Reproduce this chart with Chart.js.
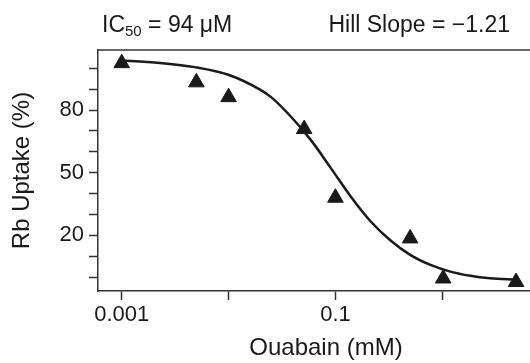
<!DOCTYPE html>
<html>
<head>
<meta charset="utf-8">
<script src="https://cdn.jsdelivr.net/npm/chart.js@4.4.1/dist/chart.umd.min.js"></script>
<style>
  html, body { margin: 0; padding: 0; background: #fff; }
  /* the figure is a crop of a slightly wider plot: the right edge of the frame falls outside */
  #crop { width: 530px; height: 363px; overflow: hidden; position: relative; }
  #wrap { width: 554px; height: 363px; position: relative; }
</style>
</head>
<body>
<div id="crop"><div id="wrap"><canvas id="doseChart"></canvas></div></div>
<script>
// measured points (ouabain mM vs Rb uptake %)
var doseX   = [0.001, 0.005, 0.01, 0.051, 0.1, 0.5, 1.02, 4.9];
var uptakeY = [102.5, 93.3, 86.2, 70.9, 38, 18.5, -0.7, -2.4];

// fitted curve
var fitX = [0.001, 0.0024, 0.0048, 0.0101, 0.0197, 0.025, 0.0384, 0.059, 0.0906,
            0.139, 0.214, 0.328, 0.505, 0.775, 1.19, 1.83, 2.81, 4.9];
var fitY = [103.8, 102.5, 100.6, 96.8, 89.8, 86.2, 76.8, 65.6, 52.2,
            38.6, 26.6, 17.5, 10.5, 5.8, 2.6, 0.6, -0.6, -1.3];

var xTickValues = [0.001, 0.01, 0.1, 1];
var xTickLabels = ['0.001', '', '0.1', ''];
var yTickValues = [0, 10, 20, 30, 40, 50, 60, 70, 80, 90, 100];
var yTickLabels = ['', '', '20', '', '', '50', '', '', '80', '', ''];

var FONT = 'Liberation Sans, Arial, Helvetica, sans-serif';
var INK = '#1a1a1a';
var AXIS = '#333333';

document.addEventListener('DOMContentLoaded', function () {
    var ctx = document.getElementById('doseChart').getContext('2d');

    var headerPlugin = {
        id: 'header',
        afterDraw: function (chart) {
            var c = chart.ctx;
            var area = chart.chartArea;
            c.save();
            // top frame line
            c.strokeStyle = AXIS;
            c.lineWidth = 1.5;
            c.beginPath();
            c.moveTo(area.left, area.top);
            c.lineTo(area.right, area.top);
            c.stroke();

            c.fillStyle = INK;
            c.textBaseline = 'alphabetic';
            c.textAlign = 'left';
            var x = 102;
            c.font = '23px ' + FONT;
            c.fillText('IC', x, 31.5);
            x += c.measureText('IC').width;
            c.font = '15px ' + FONT;
            c.fillText('50', x, 36);
            x += c.measureText('50').width;
            c.font = '23px ' + FONT;
            c.fillText(' = 94 \u03BCM', x, 31.5);

            c.textAlign = 'right';
            c.fillText('Hill Slope = \u22121.21', 510, 31.5);
            c.restore();
        }
    };

    new Chart(ctx, {
        type: 'scatter',
        data: {
            datasets: [
                {
                    label: 'Measured',
                    data: doseX.map(function (x, i) { return { x: x, y: uptakeY[i] }; }),
                    pointStyle: 'triangle',
                    pointRadius: 9,
                    pointBackgroundColor: INK,
                    pointBorderColor: INK,
                    pointBorderWidth: 1,
                    showLine: false,
                    order: 0
                },
                {
                    label: 'Fit',
                    data: fitX.map(function (x, i) { return { x: x, y: fitY[i] }; }),
                    showLine: true,
                    borderColor: INK,
                    borderWidth: 2.5,
                    pointRadius: 0,
                    cubicInterpolationMode: 'monotone',
                    fill: false,
                    order: 1
                }
            ]
        },
        options: {
            responsive: true,
            maintainAspectRatio: false,
            animation: false,
            layout: {
                autoPadding: false,
                padding: { top: 50, right: 0, left: 0, bottom: 0 }
            },
            plugins: {
                legend: { display: false },
                tooltip: { enabled: false }
            },
            scales: {
                x: {
                    type: 'logarithmic',
                    min: 0.00062,
                    max: 11.1,
                    afterBuildTicks: function (axis) {
                        axis.ticks = xTickValues.map(function (v) { return { value: v }; });
                    },
                    afterFit: function (axis) { axis.height = 72; },
                    grid: {
                        display: true,
                        drawOnChartArea: false,
                        drawTicks: true,
                        tickLength: 9,
                        tickColor: AXIS,
                        tickWidth: 1.5
                    },
                    border: { display: true, color: AXIS, width: 1.5 },
                    ticks: {
                        autoSkip: false,
                        maxRotation: 0,
                        padding: 2,
                        color: INK,
                        font: { family: FONT, size: 22 },
                        callback: function (value, index) {
                            return xTickLabels[index];
                        }
                    },
                    title: {
                        display: true,
                        text: 'Ouabain (mM)',
                        color: INK,
                        font: { family: FONT, size: 24 },
                        padding: { top: 0, bottom: 0 }
                    }
                },
                y: {
                    type: 'linear',
                    min: -6.7,
                    max: 108.8,
                    afterBuildTicks: function (axis) {
                        axis.ticks = yTickValues.map(function (v) { return { value: v }; });
                    },
                    afterFit: function (axis) { axis.width = 98; },
                    grid: {
                        display: true,
                        drawOnChartArea: false,
                        drawTicks: true,
                        tickLength: 9,
                        tickColor: AXIS,
                        tickWidth: 1.5
                    },
                    border: { display: true, color: AXIS, width: 1.5 },
                    ticks: {
                        autoSkip: false,
                        padding: 5,
                        color: INK,
                        font: { family: FONT, size: 22 },
                        callback: function (value, index) {
                            return yTickLabels[index];
                        }
                    },
                    title: {
                        display: true,
                        text: 'Rb Uptake (%)',
                        color: INK,
                        font: { family: FONT, size: 24 },
                        padding: { top: 8, bottom: 0 }
                    }
                }
            }
        },
        plugins: [headerPlugin]
    });
});
</script>
</body>
</html>
